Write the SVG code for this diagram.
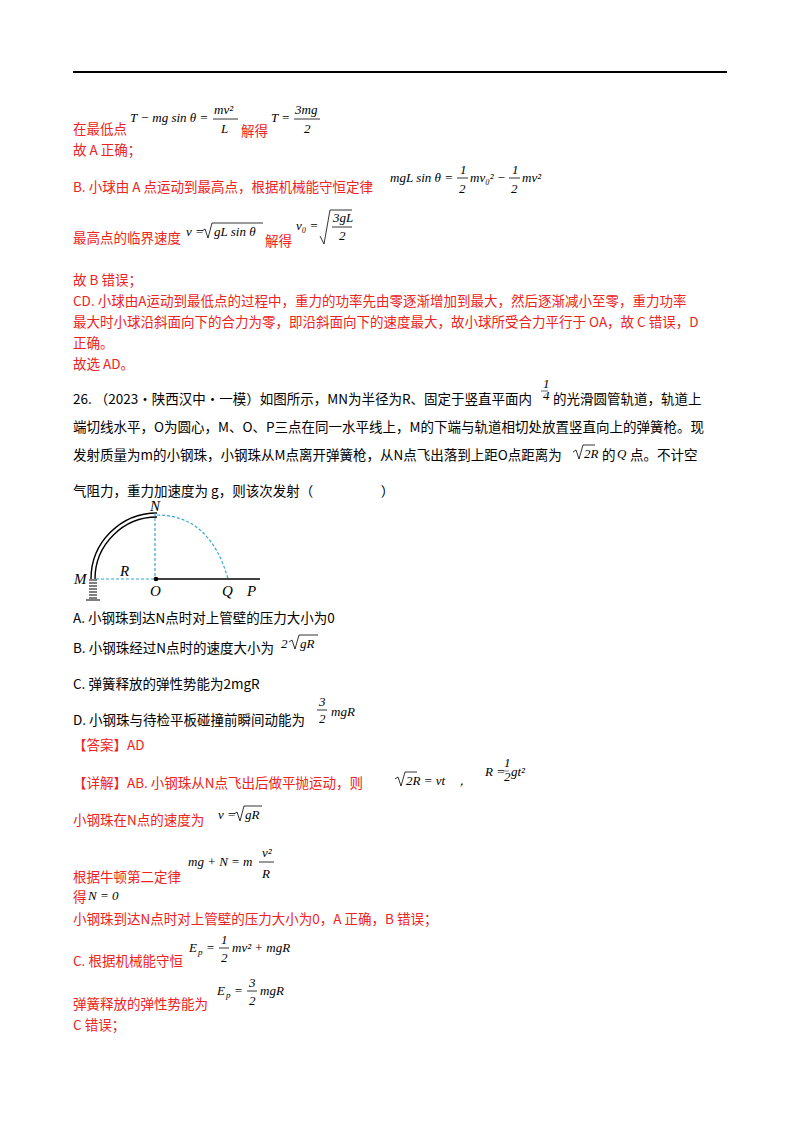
<svg xmlns="http://www.w3.org/2000/svg" width="800" height="1132" viewBox="0 0 800 1132">
<style>
.t{font-family:"Noto Sans CJK SC","Liberation Serif",serif;font-size:13.5px;fill:#000}
.r{font-family:"Noto Sans CJK SC","Liberation Serif",serif;font-size:13.5px;fill:#ee2222}
.m{font-family:"Liberation Serif",serif;font-style:italic;font-size:13px;fill:#000}
.s{font-family:"Liberation Serif",serif;font-style:italic;font-size:9px;fill:#000}
.l{font-family:"Liberation Serif",serif;font-style:italic;font-size:15px;fill:#000}
.k{fill:none;stroke:#000;stroke-width:0.8}
</style>
<rect width="800" height="1132" fill="#fff"/>
<line x1="73" y1="72" x2="727" y2="72" stroke="#000" stroke-width="2"/>
<g id="text-top">
<text class="m" x="130" y="122">T − mg sin θ =</text>
<text class="m" x="214" y="114">mv²</text><line x1="213" y1="119" x2="238" y2="119" class="k"/><text class="m" x="221" y="133">L</text>
<text class="r" x="73" y="134">在最低点</text><text class="r" x="241" y="136">解得</text>
<text class="m" x="271" y="122">T =</text><text class="m" x="295" y="114">3mg</text><line x1="294" y1="119" x2="320" y2="119" class="k"/><text class="m" x="304" y="133">2</text>
<text class="r" x="73" y="155">故 A 正确；</text>
<text class="r" x="73" y="192">B. 小球由 A 点运动到最高点，根据机械能守恒定律</text>
<text class="m" x="390" y="182">mgL sin θ =</text>
<text class="m" x="460" y="174">1</text><line x1="457" y1="178" x2="468" y2="178" class="k"/><text class="m" x="459" y="193">2</text>
<text class="m" x="470" y="182">mv₀² −</text>
<text class="m" x="512" y="174">1</text><line x1="509" y1="178" x2="520" y2="178" class="k"/><text class="m" x="511" y="193">2</text>
<text class="m" x="522" y="182">mv²</text>
<text class="r" x="73" y="243">最高点的临界速度</text>
<text class="m" x="186" y="236">v =</text>
<path class="k" d="M202 231 L205 229 L208 238 L212 223 L263 223"/>
<text class="m" x="214" y="236">gL sin θ</text>
<text class="r" x="265" y="246">解得</text>
<text class="m" x="296" y="230">v₀ =</text>
<path class="k" d="M320 236 L324 244 L330 210 L352 210"/>
<text class="m" x="333" y="222">3gL</text><line x1="332" y1="227" x2="352" y2="227" class="k"/><text class="m" x="339" y="240">2</text>
<text class="r" x="73" y="285">故 B 错误；</text>
<text class="r" x="73" y="306">CD. 小球由A运动到最低点的过程中，重力的功率先由零逐渐增加到最大，然后逐渐减小至零，重力功率</text>
<text class="r" x="73" y="327">最大时小球沿斜面向下的合力为零，即沿斜面向下的速度最大，故小球所受合力平行于 OA，故 C 错误，D</text>
<text class="r" x="73" y="348">正确。</text>
<text class="r" x="73" y="369">故选 AD。</text>
</g>
<g id="question">
<text class="t" x="73" y="404">26. （2023·陕西汉中·一模）如图所示，MN为半径为R、固定于竖直平面内</text>
<text class="m" x="543" y="388" font-size="8">1</text><line x1="541" y1="391" x2="548" y2="391" stroke="#000" stroke-width="0.6"/><text class="m" x="543" y="400" font-size="8">4</text>
<text class="t" x="553" y="404">的光滑圆管轨道，轨道上</text>
<text class="t" x="73" y="432">端切线水平，O为圆心，M、O、P三点在同一水平线上，M的下端与轨道相切处放置竖直向上的弹簧枪。现</text>
<text class="t" x="73" y="460">发射质量为m的小钢珠，小钢珠从M点离开弹簧枪，从N点飞出落到上距O点距离为</text>
<path class="k" d="M573 452 L576 450 L579 459 L583 445 L595 445"/>
<text class="m" x="584" y="458" font-size="15">2R</text>
<text class="t" x="602" y="460">的</text><text class="m" x="617" y="458" font-size="15">Q</text><text class="t" x="630" y="460">点。不计空</text>
<text class="t" x="73" y="496">气阻力，重力加速度为 g，则该次发射（　　　　　）</text>
</g>
<g id="figure">
<path d="M95 579 A62 62 0 0 1 157 517" fill="none" stroke="#000" stroke-width="1.4"/>
<path d="M91 579 A66 66 0 0 1 157 513" fill="none" stroke="#000" stroke-width="1.4"/>
<line x1="155" y1="513" x2="155" y2="579" stroke="#39a6d8" stroke-width="1.2" stroke-dasharray="3,2"/>
<line x1="96" y1="579" x2="155" y2="579" stroke="#39a6d8" stroke-width="1.2" stroke-dasharray="3,2"/>
<path d="M157 515 Q210 515 228 579" fill="none" stroke="#39a6d8" stroke-width="1.2" stroke-dasharray="3,2"/>
<line x1="155" y1="579" x2="260" y2="579" stroke="#000" stroke-width="1.4"/>
<circle cx="156" cy="579" r="2.3" fill="#000"/>
<path d="M89 580 h8 M89 583 h8 M89 586 h8 M89 589 h8 M89 592 h8 M89 595 h8 M89 598 h8" stroke="#000" stroke-width="1"/>
<line x1="86" y1="600" x2="100" y2="600" stroke="#000"/>
<text class="l" x="150" y="511">N</text><text class="l" x="74" y="584">M</text><text class="l" x="120" y="576">R</text>
<text class="l" x="150" y="596">O</text><text class="l" x="222" y="596">Q</text><text class="l" x="247" y="596">P</text>
</g>
<g id="options">
<text class="t" x="73" y="623">A. 小钢珠到达N点时对上管壁的压力大小为0</text>
<text class="t" x="73" y="653">B. 小钢珠经过N点时的速度大小为</text>
<text class="m" x="281" y="648" font-size="15">2</text>
<path class="k" d="M289 642 L292 640 L295 649 L299 635 L318 635"/>
<text class="m" x="300" y="648" font-size="15">gR</text>
<text class="t" x="73" y="689">C. 弹簧释放的弹性势能为2mgR</text>
<text class="t" x="73" y="725">D. 小钢珠与待检平板碰撞前瞬间动能为</text>
<text class="m" x="319" y="706">3</text><line x1="317" y1="710" x2="327" y2="710" class="k"/><text class="m" x="319" y="723">2</text>
<text class="m" x="331" y="716">mgR</text>
<text class="r" x="73" y="750">【答案】AD</text>
</g>
<g id="solution">
<text class="r" x="73" y="788">【详解】AB. 小钢珠从N点飞出后做平抛运动，则</text>
<path class="k" d="M395 779 L398 777 L401 786 L405 772 L417 772"/>
<text class="m" x="406" y="785" font-size="15">2R = vt</text>
<text class="m" x="455" y="785">，</text>
<text class="m" x="485" y="776" font-size="10">R =</text>
<text class="m" x="504" y="767" font-size="7">1</text><line x1="503" y1="771" x2="509" y2="771" stroke="#000" stroke-width="0.5"/><text class="m" x="504" y="781" font-size="7">2</text>
<text class="m" x="511" y="776" font-size="10">gt²</text>
<text class="r" x="73" y="825">小钢珠在N点的速度为</text>
<text class="m" x="218" y="819">v =</text>
<path class="k" d="M234 814 L237 812 L240 821 L244 806 L262 806"/>
<text class="m" x="245" y="819">gR</text>
<text class="m" x="188" y="866">mg + N = m</text><text class="m" x="262" y="857">v²</text><line x1="259" y1="862" x2="274" y2="862" class="k"/><text class="m" x="262" y="878">R</text>
<text class="r" x="73" y="882">根据牛顿第二定律</text>
<text class="r" x="73" y="902">得</text><text class="m" x="88" y="900">N = 0</text>
<text class="r" x="73" y="924">小钢珠到达N点时对上管壁的压力大小为0，A 正确，B 错误；</text>
<text class="m" x="189" y="952">E</text><text class="s" x="198" y="955">p</text><text class="m" x="206" y="952">=</text>
<text class="m" x="221" y="944">1</text><line x1="219" y1="948" x2="229" y2="948" class="k"/><text class="m" x="221" y="962">2</text>
<text class="m" x="232" y="952">mv² + mgR</text>
<text class="r" x="73" y="966">C. 根据机械能守恒</text>
<text class="m" x="217" y="995">E</text><text class="s" x="226" y="998">p</text><text class="m" x="234" y="995">=</text>
<text class="m" x="249" y="987">3</text><line x1="247" y1="991" x2="257" y2="991" class="k"/><text class="m" x="249" y="1005">2</text>
<text class="m" x="260" y="995">mgR</text>
<text class="r" x="73" y="1009">弹簧释放的弹性势能为</text>
<text class="r" x="73" y="1030">C 错误；</text>
</g>
</svg>
